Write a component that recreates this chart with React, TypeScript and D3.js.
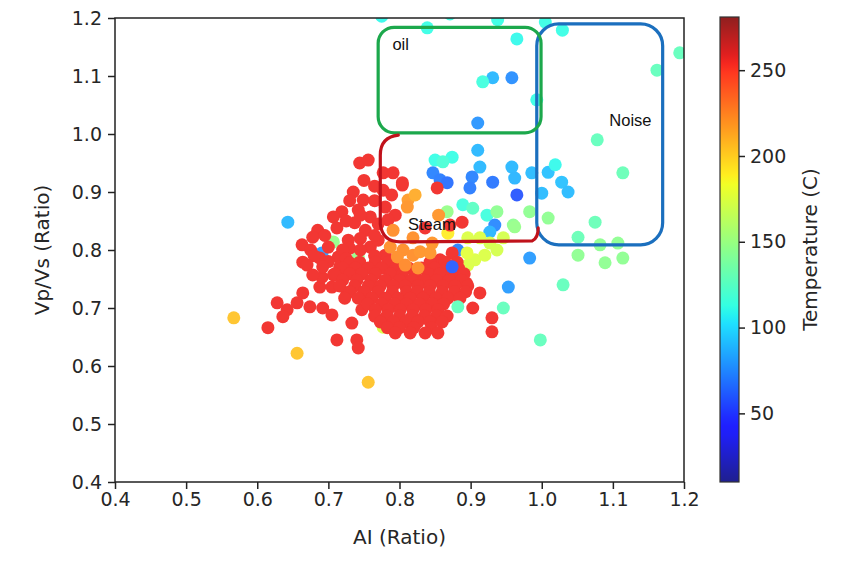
import React, { useEffect, useRef } from "react";
import * as d3 from "d3";

// [AI, Vp/Vs, Temperature]
const coolPts = [
  [0.775, 1.203, 110], [0.871, 1.207, 112], [0.839, 1.183, 112], [0.938, 1.197, 112],
  [0.965, 1.164, 110], [1.005, 1.193, 112], [1.029, 1.179, 112], [0.931, 1.097, 89],
  [0.958, 1.097, 76], [0.917, 1.09, 115], [0.993, 1.059, 112], [0.91, 1.019, 78],
  [1.194, 1.14, 128], [1.162, 1.11, 128], [1.078, 0.99, 128], [1.114, 0.933, 130],
  [0.91, 0.972, 89], [0.85, 0.955, 112], [0.874, 0.96, 112], [0.861, 0.952, 118],
  [0.913, 0.943, 89], [0.847, 0.933, 72], [0.857, 0.921, 70], [0.867, 0.916, 66],
  [0.902, 0.926, 72], [0.899, 0.907, 70], [0.931, 0.917, 68], [0.958, 0.943, 89],
  [0.962, 0.924, 88], [0.965, 0.895, 58], [0.986, 0.933, 90], [1.009, 0.934, 92],
  [1.019, 0.947, 110], [1.028, 0.917, 92], [1.037, 0.9, 90], [1.0, 0.898, 90],
  [0.889, 0.878, 115], [0.903, 0.872, 125], [0.923, 0.86, 115], [0.934, 0.843, 74],
  [0.927, 0.831, 88], [0.983, 0.786, 80], [0.953, 0.736, 80], [1.03, 0.74, 128],
  [0.946, 0.7, 128], [0.998, 0.645, 128], [0.643, 0.848, 89], [0.691, 0.795, 80],
  [0.882, 0.8, 72],
];

const greenPts = [
  [0.937, 0.866, 145], [0.96, 0.843, 145], [0.983, 0.866, 145], [1.009, 0.855, 145],
  [0.962, 0.84, 148], [1.075, 0.848, 130], [1.051, 0.822, 130], [1.082, 0.809, 145],
  [1.107, 0.812, 145], [1.051, 0.791, 145], [1.089, 0.778, 145], [1.114, 0.786, 145],
  [0.707, 0.814, 148], [0.742, 0.788, 148], [0.867, 0.866, 148], [0.777, 0.667, 175],
  [0.868, 0.829, 190], [0.896, 0.821, 175], [0.913, 0.821, 175], [0.927, 0.812, 172],
  [0.946, 0.821, 172], [0.906, 0.783, 175], [0.895, 0.795, 178], [0.92, 0.791, 175],
  [0.937, 0.8, 172], [0.896, 0.774, 175], [0.885, 0.757, 180],
];

const steamTemp = 255;
const steamPts = [
  [0.744, 0.95], [0.756, 0.955], [0.777, 0.933], [0.804, 0.912], [0.735, 0.9], [0.749, 0.886],
  [0.777, 0.903], [0.78, 0.874], [0.742, 0.869], [0.719, 0.866], [0.707, 0.857], [0.685, 0.834],
  [0.678, 0.822], [0.663, 0.809], [0.712, 0.838], [0.737, 0.847], [0.752, 0.834], [0.759, 0.857],
  [0.728, 0.817], [0.759, 0.805], [0.664, 0.779], [0.688, 0.786], [0.714, 0.788], [0.73, 0.803],
  [0.716, 0.771], [0.853, 0.907], [0.888, 0.848], [0.789, 0.895], [0.794, 0.86], [0.77, 0.817],
  [0.78, 0.791], [0.791, 0.933], [0.804, 0.916], [0.784, 0.852], [0.836, 0.838], [0.871, 0.843],
  [0.857, 0.783], [0.874, 0.795],
  [0.75, 0.92], [0.765, 0.91], [0.73, 0.885], [0.765, 0.885], [0.725, 0.85], [0.745, 0.86],
  [0.77, 0.845], [0.695, 0.825], [0.7, 0.805], [0.745, 0.82], [0.765, 0.825], [0.675, 0.8],
  [0.72, 0.8], [0.745, 0.8], [0.765, 0.79], [0.7, 0.78], [0.725, 0.785], [0.68, 0.79],
  // left arm
  [0.615, 0.666], [0.628, 0.709], [0.642, 0.697], [0.636, 0.685], [0.656, 0.709], [0.664, 0.726],
  [0.674, 0.702], [0.688, 0.736], [0.692, 0.7], [0.691, 0.753], [0.705, 0.688], [0.705, 0.736],
  [0.712, 0.645], [0.726, 0.726], [0.733, 0.674], [0.74, 0.645], [0.742, 0.631], [0.747, 0.697],
  [0.756, 0.719], [0.67, 0.774], [0.73, 0.778], [0.692, 0.771], [0.678, 0.757], [0.707, 0.757],
  // right edge
  [0.913, 0.726], [0.93, 0.683], [0.93, 0.659], [0.903, 0.7], [0.894, 0.743],
  // dense core
  [0.744, 0.779], [0.766, 0.779], [0.784, 0.779], [0.843, 0.779], [0.864, 0.779], [0.881, 0.779],
  [0.72, 0.769], [0.738, 0.769], [0.756, 0.769], [0.775, 0.769], [0.795, 0.769], [0.813, 0.769],
  [0.831, 0.769], [0.849, 0.769], [0.866, 0.769], [0.883, 0.769],
  [0.709, 0.759], [0.73, 0.759], [0.747, 0.759], [0.766, 0.759], [0.787, 0.759], [0.804, 0.759],
  [0.822, 0.759], [0.84, 0.759], [0.857, 0.759], [0.874, 0.759], [0.891, 0.759],
  [0.72, 0.748], [0.74, 0.748], [0.76, 0.748], [0.78, 0.748], [0.8, 0.748], [0.817, 0.748],
  [0.835, 0.748], [0.852, 0.748], [0.87, 0.748], [0.887, 0.748],
  [0.716, 0.738], [0.737, 0.738], [0.756, 0.738], [0.773, 0.738], [0.791, 0.738], [0.808, 0.738],
  [0.826, 0.738], [0.843, 0.738], [0.861, 0.738], [0.878, 0.738], [0.896, 0.738],
  [0.73, 0.728], [0.75, 0.728], [0.77, 0.728], [0.79, 0.728], [0.81, 0.728], [0.825, 0.728],
  [0.842, 0.728], [0.86, 0.728], [0.877, 0.728], [0.893, 0.728],
  [0.723, 0.717], [0.742, 0.717], [0.761, 0.717], [0.78, 0.717], [0.798, 0.717], [0.815, 0.717],
  [0.833, 0.717], [0.851, 0.717], [0.868, 0.717], [0.885, 0.717],
  [0.755, 0.707], [0.775, 0.707], [0.793, 0.707], [0.81, 0.707], [0.828, 0.707], [0.846, 0.707],
  [0.862, 0.707],
  [0.766, 0.697], [0.784, 0.697], [0.801, 0.697], [0.819, 0.697], [0.837, 0.697], [0.854, 0.697],
  [0.765, 0.686], [0.782, 0.686], [0.8, 0.686], [0.818, 0.686], [0.835, 0.686], [0.852, 0.686],
  [0.867, 0.686],
  [0.773, 0.676], [0.791, 0.676], [0.809, 0.676], [0.826, 0.676], [0.843, 0.676], [0.86, 0.676],
  [0.783, 0.666], [0.8, 0.666], [0.82, 0.666], [0.845, 0.666],
  [0.794, 0.657], [0.815, 0.657], [0.836, 0.657], [0.854, 0.657],
];

const warmPts = [
  [0.567, 0.683, 204], [0.656, 0.622, 204], [0.756, 0.572, 204],
  [0.855, 0.86, 220], [0.812, 0.886, 218], [0.822, 0.895, 212], [0.811, 0.874, 220],
  [0.791, 0.834, 222], [0.787, 0.805, 222], [0.805, 0.8, 222], [0.797, 0.788, 222],
  [0.819, 0.791, 222], [0.829, 0.797, 220], [0.843, 0.795, 220], [0.846, 0.812, 220],
  [0.819, 0.821, 222], [0.808, 0.774, 224], [0.826, 0.769, 222],
];

const topPts = [
  [0.882, 0.702, 128], [0.874, 0.771, 60],
];

const axisTicks = [0.4, 0.5, 0.6, 0.7, 0.8, 0.9, 1.0, 1.1, 1.2];
const tempTicks = [50, 100, 150, 200, 250];
const tempRange = [10, 281];

// hand drawn regions, in data units
const oilBox = { x0: 0.77, x1: 0.999, y0: 1.002, y1: 1.184 };
const noiseBox = { x0: 0.993, x1: 1.17, y0: 0.809, y1: 1.19 };
const steamBox = { x0: 0.773, x1: 0.995, y0: 0.814, y1: 0.998 };
const labels = [
  { text: "oil", ai: 0.79, v: 1.145 },
  { text: "Noise", ai: 1.095, v: 1.014 },
  { text: "Steam", ai: 0.812, v: 0.834 },
];

// matplotlib "jet"
const jetR = d3.scaleLinear().domain([0, 0.35, 0.66, 0.89, 1]).range([0, 0, 1, 1, 0.5]).clamp(true);
const jetG = d3.scaleLinear().domain([0, 0.125, 0.375, 0.64, 0.91, 1]).range([0, 0, 1, 1, 0, 0]).clamp(true);
const jetB = d3.scaleLinear().domain([0, 0.11, 0.34, 0.65, 1]).range([0.5, 1, 1, 0, 0]).clamp(true);
const jet = (t: number) => d3.rgb(jetR(t) * 255, jetG(t) * 255, jetB(t) * 255);

const App = () => {
  const ref = useRef<SVGSVGElement>(null);

  useEffect(() => {
    const width = 854;
    const height = 565;
    const plot = { left: 115, right: 684, top: 18, bottom: 482 };
    const cbar = { left: 720, width: 19, top: 17, bottom: 482 };

    const svg = d3.select(ref.current).attr("width", width).attr("height", height);
    svg.selectAll("*").remove();

    const x = d3.scaleLinear().domain([0.4, 1.2]).range([plot.left, plot.right]);
    const y = d3.scaleLinear().domain([0.4, 1.2]).range([plot.bottom, plot.top]);
    const tnorm = d3.scaleLinear().domain(tempRange).range([0, 1]);
    const color = (t: number) => d3.interpolateRgb(jet(tnorm(t)), "#ffffff")(0.2);

    svg.append("rect").attr("width", width).attr("height", height).attr("fill", "white");

    svg.append("clipPath").attr("id", "plotclip")
      .append("rect")
      .attr("x", plot.left).attr("y", plot.top)
      .attr("width", plot.right - plot.left).attr("height", plot.bottom - plot.top);

    const dots = svg.append("g").attr("clip-path", "url(#plotclip)");
    const drawPts = (pts: number[][]) =>
      dots.append("g")
        .selectAll("circle")
        .data(pts)
        .join("circle")
        .attr("cx", (d) => x(d[0]))
        .attr("cy", (d) => y(d[1]))
        .attr("r", 6.5)
        .attr("fill", (d) => color(d[2] ?? steamTemp));

    drawPts(coolPts);
    drawPts(greenPts);
    drawPts(steamPts.map((d) => [d[0], d[1], steamTemp]));
    drawPts(warmPts);
    drawPts(topPts);

    // annotation boxes
    const ann = svg.append("g").attr("fill", "none").attr("stroke-width", 3.2)
      .attr("stroke-linecap", "round").attr("stroke-linejoin", "round");

    ann.append("rect")
      .attr("x", x(noiseBox.x0)).attr("y", y(noiseBox.y1))
      .attr("width", x(noiseBox.x1) - x(noiseBox.x0))
      .attr("height", y(noiseBox.y0) - y(noiseBox.y1))
      .attr("rx", 22)
      .attr("stroke", "#1b6fbe");

    ann.append("rect")
      .attr("x", x(oilBox.x0)).attr("y", y(oilBox.y1))
      .attr("width", x(oilBox.x1) - x(oilBox.x0))
      .attr("height", y(oilBox.y0) - y(oilBox.y1))
      .attr("rx", 16)
      .attr("stroke", "#1ca84c");

    const p = d3.path();
    const sx0 = x(steamBox.x0), sx1 = x(steamBox.x1);
    const sy0 = y(steamBox.y0), sy1 = y(steamBox.y1);
    p.moveTo(sx0 + 18, sy1);
    p.quadraticCurveTo(sx0, sy1 + 2, sx0, sy1 + 20);
    p.lineTo(sx0, sy0 - 18);
    p.quadraticCurveTo(sx0 + 2, sy0, sx0 + 20, sy0);
    p.lineTo(sx1 - 6, sy0 - 1);
    p.quadraticCurveTo(sx1, sy0 - 4, sx1, sy0 - 14);
    ann.append("path").attr("d", p.toString()).attr("stroke", "#c0121b");

    svg.append("g")
      .selectAll("text")
      .data(labels)
      .join("text")
      .attr("x", (d) => x(d.ai))
      .attr("y", (d) => y(d.v))
      .attr("font-family", "Liberation Sans, Arial, sans-serif")
      .attr("font-size", 16.5)
      .attr("fill", "#111")
      .text((d) => d.text);

    // axes
    const tickStyle = (g: any) => {
      g.select(".domain").remove();
      g.selectAll(".tick line").attr("stroke", "#222").attr("stroke-width", 1.5);
      g.selectAll(".tick text")
        .attr("fill", "#262626")
        .attr("font-family", "DejaVu Sans, sans-serif")
        .attr("font-size", 19);
    };

    svg.append("g")
      .attr("transform", `translate(0,${plot.bottom})`)
      .call(d3.axisBottom(x).tickValues(axisTicks).tickFormat(d3.format(".1f")).tickSize(7).tickPadding(4))
      .call(tickStyle);

    svg.append("g")
      .attr("transform", `translate(${plot.left},0)`)
      .call(d3.axisLeft(y).tickValues(axisTicks).tickFormat(d3.format(".1f")).tickSize(7).tickPadding(6))
      .call(tickStyle);

    svg.append("rect")
      .attr("x", plot.left).attr("y", plot.top)
      .attr("width", plot.right - plot.left).attr("height", plot.bottom - plot.top)
      .attr("fill", "none").attr("stroke", "#222").attr("stroke-width", 1.5);

    svg.append("text")
      .attr("x", (plot.left + plot.right) / 2)
      .attr("y", 544)
      .attr("text-anchor", "middle")
      .attr("font-family", "DejaVu Sans, sans-serif")
      .attr("font-size", 20)
      .attr("fill", "#262626")
      .text("AI (Ratio)");

    svg.append("text")
      .attr("transform", `translate(49,${(plot.top + plot.bottom) / 2}) rotate(-90)`)
      .attr("text-anchor", "middle")
      .attr("font-family", "DejaVu Sans, sans-serif")
      .attr("font-size", 20)
      .attr("fill", "#262626")
      .text("Vp/Vs (Ratio)");

    // colorbar
    const c = d3.scaleLinear().domain(tempRange).range([cbar.bottom, cbar.top]);
    const grad = svg.append("defs").append("linearGradient")
      .attr("id", "jetgrad").attr("x1", 0).attr("x2", 0).attr("y1", 1).attr("y2", 0);
    grad.selectAll("stop")
      .data(d3.range(0, 1.0001, 0.02))
      .join("stop")
      .attr("offset", (d) => d)
      .attr("stop-color", (d) => d3.interpolateRgb(jet(d), "#ffffff")(0.12));

    svg.append("rect")
      .attr("x", cbar.left).attr("y", cbar.top)
      .attr("width", cbar.width).attr("height", cbar.bottom - cbar.top)
      .attr("fill", "url(#jetgrad)")
      .attr("stroke", "#333").attr("stroke-width", 1.2);

    svg.append("g")
      .attr("transform", `translate(${cbar.left + cbar.width},0)`)
      .call(d3.axisRight(c).tickValues(tempTicks).tickSize(6).tickPadding(5))
      .call(tickStyle);

    svg.append("text")
      .attr("transform", `translate(817,${(cbar.top + cbar.bottom) / 2}) rotate(-90)`)
      .attr("text-anchor", "middle")
      .attr("font-family", "DejaVu Sans, sans-serif")
      .attr("font-size", 20)
      .attr("fill", "#262626")
      .text("Temperature (C)");
  }, []);

  return (
    <div style={{ position: "absolute", left: 0, top: 0 }}>
      <svg ref={ref} style={{ display: "block" }}></svg>
    </div>
  );
};

export default App;
